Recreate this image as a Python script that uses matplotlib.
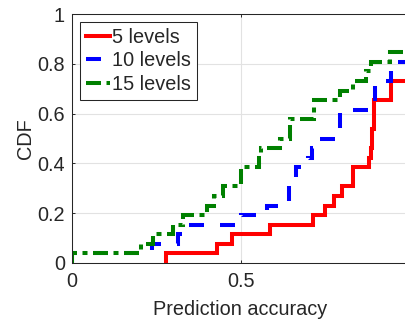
import numpy as np
import matplotlib
matplotlib.use('Agg')
import matplotlib.pyplot as plt

# ---- data (prediction accuracy samples, 26 per setting) ----
series_labels = ['5 levels', '10 levels', '15 levels']
acc_5_levels = [0.279, 0.43, 0.474, 0.588, 0.714, 0.75, 0.778, 0.80, 0.833, 0.833,
                0.881, 0.886, 0.889, 0.889, 0.896, 0.896, 0.896, 0.946, 0.946,
                1.0, 1.0, 1.0, 1.0, 1.0, 1.0, 1.0]
acc_10_levels = [0.0, 0.236, 0.316, 0.33, 0.50, 0.58, 0.645, 0.645, 0.645, 0.665,
                 0.70, 0.713, 0.725, 0.796, 0.796, 0.796, 0.899, 0.899, 0.899,
                 0.946, 0.946, 1.0, 1.0, 1.0, 1.0, 1.0]
acc_15_levels = [0.0, 0.206, 0.24, 0.30, 0.33, 0.40, 0.42, 0.449, 0.50, 0.50,
                 0.554, 0.56, 0.618, 0.648, 0.648, 0.717, 0.717, 0.796, 0.835,
                 0.873, 0.887, 0.943, 1.0, 1.0, 1.0, 1.0]
x_ticks = [0, 0.5, 1]
x_tick_labels = ['0', '0.5', '1']
y_ticks = [0, 0.2, 0.4, 0.6, 0.8, 1]
y_tick_labels = ['0', '0.2', '0.4', '0.6', '0.8', '1']

plt.rcParams['font.family'] = ['Liberation Sans', 'DejaVu Sans']
plt.rcParams['lines.scale_dashes'] = False
TXT = '#262626'
FS = 14.3

W, H = 405, 322
fig = plt.figure(figsize=(W / 100, H / 100), dpi=100)
L, R, T, B = 72, 409, 14, 263
ax = fig.add_axes([L / W, (H - B) / H, (R - L) / W, (B - T) / H])


def ecdf(samples):
    s = np.sort(np.asarray(samples, dtype=float))
    n = len(s)
    xs = np.concatenate([[s[0]], s])
    ys = np.concatenate([[0.0], np.arange(1, n + 1) / n])
    return xs, ys


px = 72 / 100  # points per pixel
styles = [
    dict(color='#ff0000', linestyle='-'),
    dict(color='#0000ff', linestyle=(0, (15 * px, 16 * px))),
    dict(color='#008000', linestyle=(0, (15 * px, 5.5 * px, 5 * px, 5.5 * px))),
]
for data, lab, st in zip([acc_5_levels, acc_10_levels, acc_15_levels], series_labels, styles):
    xs, ys = ecdf(data)
    ax.plot(xs, ys, drawstyle='steps-post', lw=2.9, label=lab,
            solid_joinstyle='miter', dash_joinstyle='miter', **st)

ax.set_xlim(0, 1)
ax.set_ylim(0, 1)
ax.set_xticks(x_ticks)
ax.set_xticklabels(x_tick_labels)
ax.set_yticks(y_ticks)
ax.set_yticklabels(y_tick_labels)
ax.grid(True, color='#e2e2e2', lw=0.8)
ax.set_axisbelow(True)
ax.tick_params(direction='in', length=2.5, width=0.7, colors=TXT, labelsize=FS,
               top=True, right=True, pad=5)
ax.tick_params(axis='x', pad=6.8)
for sp in ax.spines.values():
    sp.set_color(TXT)
    sp.set_linewidth(0.75)

ax.set_xlabel('Prediction accuracy', fontsize=FS, color=TXT, labelpad=6.5)
ax.set_ylabel('CDF', fontsize=FS, color=TXT, labelpad=1.5)

leg = ax.legend(loc='upper left', fontsize=FS, frameon=True, fancybox=False,
                edgecolor=TXT, framealpha=1, borderaxespad=0.4, borderpad=0.3,
                labelspacing=0.22, handlelength=1.2, handletextpad=0.1)
leg.get_frame().set_linewidth(0.75)
for t in leg.get_texts():
    t.set_color(TXT)

fig.savefig('out.png', dpi=100)
